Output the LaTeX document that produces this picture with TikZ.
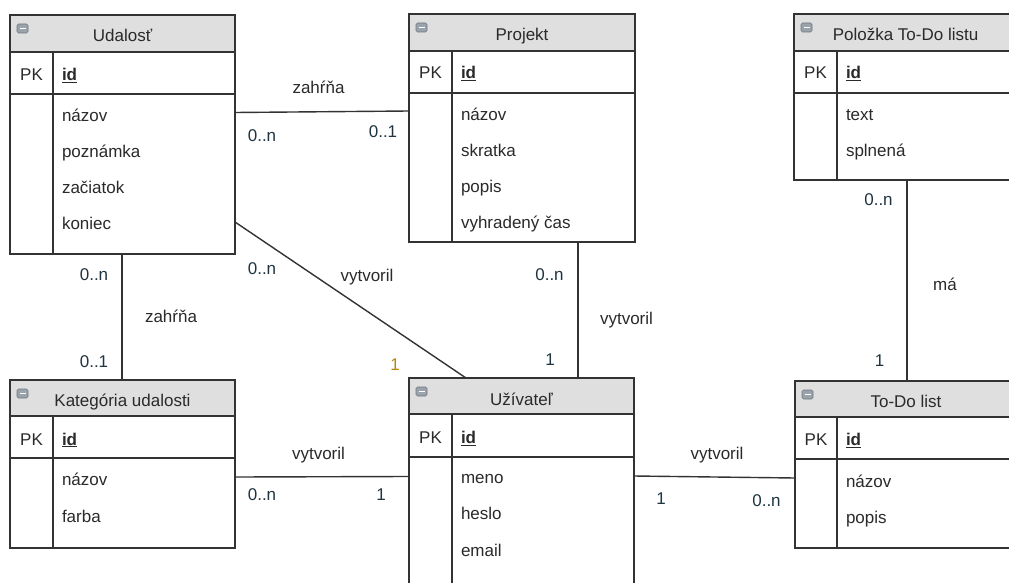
\documentclass[tikz,border=0pt]{standalone}
\usepackage{fontspec}
\setmainfont{Liberation Sans}
\usetikzlibrary{calc}
\definecolor{txtc}{HTML}{2A2A2A}
\definecolor{lblc}{HTML}{1F3440}
\definecolor{orng}{HTML}{B8860B}
\definecolor{hdrc}{HTML}{DFDFDF}
\definecolor{linec}{HTML}{333333}
\definecolor{iconc}{HTML}{9AA3AC}
\definecolor{iconb}{HTML}{6E7780}
\newcommand\fs{\fontsize{17}{20}\selectfont}
\tikzset{
  txt/.style={inner sep=0pt, outer sep=0pt, text height=12pt, text depth=0pt, font=\fs, text=txtc},
  attr/.style={txt, anchor=west},
  ttl/.style={txt, anchor=center},
  lbl/.style={txt, anchor=center, text=lblc},
  rel/.style={txt, anchor=center},
  entbox/.style={draw=linec, line width=1.5pt, inner sep=0pt, outer sep=0pt, anchor=north west},
  ln/.style={draw=linec, line width=1.5pt},
  conn/.style={draw=linec, line width=1.4pt},
}
% x1,y1,x2,y2,yh,yp,xd
\newcommand{\entinner}[7]{%
  \fill[hdrc] (#1,#2) rectangle (#3,#5);
  \draw[ln] (#1,#5) -- (#3,#5);
  \draw[ln] (#1,#6) -- (#3,#6);
  \draw[ln] (#7,#5) -- (#7,#4);
  \draw[draw=iconb, fill=iconc, rounded corners=1.5pt, line width=0.6pt] (#1+7,#2+9) rectangle ++(11,9);
  \draw[white, line width=1.3pt] (#1+9.5,#2+13.5) -- ++(6,0);
}
\begin{document}
\begin{tikzpicture}[x=1pt,y=-1pt]
\useasboundingbox (0,0) rectangle (1009,583);
\clip (0,0) rectangle (1009,583);
\fill[white] (0,0) rectangle (1009,583);

% ---------- Udalost
\entinner{10}{15}{235}{254}{52}{94}{53}
\node[entbox, minimum width=225pt, minimum height=239pt] (udalost) at (10,15) {};
\node[ttl] (udalost-t) at (122.5,36) {Udalosť};
\node[ttl] (udalost-pk) at (31.5,74.5) {PK};
\node[attr] (udalost-id) at (62,74.5) {\underline{\textbf{id}}};
\node[attr] (udalost-a1) at (62,115.5) {názov};
\node[attr] (udalost-a2) at (62,151.5) {poznámka};
\node[attr] (udalost-a3) at (62,187.5) {začiatok};
\node[attr] (udalost-a4) at (62,223.5) {koniec};

% ---------- Projekt
\entinner{409}{14}{635}{242}{51}{93}{452}
\node[entbox, minimum width=226pt, minimum height=228pt] (projekt) at (409,14) {};
\node[ttl] (projekt-t) at (522,35) {Projekt};
\node[ttl] (projekt-pk) at (430.5,73) {PK};
\node[attr] (projekt-id) at (461,73) {\underline{\textbf{id}}};
\node[attr] (projekt-a1) at (461,114.5) {názov};
\node[attr] (projekt-a2) at (461,150.5) {skratka};
\node[attr] (projekt-a3) at (461,186.5) {popis};
\node[attr] (projekt-a4) at (461,222.5) {vyhradený čas};

% ---------- Polozka To-Do listu
\entinner{794}{14}{1017}{180}{51}{93}{837}
\node[entbox, minimum width=223pt, minimum height=166pt] (polozka) at (794,14) {};
\node[ttl] (polozka-t) at (905.5,35) {Položka To-Do listu};
\node[ttl] (polozka-pk) at (815.5,73) {PK};
\node[attr] (polozka-id) at (846,73) {\underline{\textbf{id}}};
\node[attr] (polozka-a1) at (846,114.5) {text};
\node[attr] (polozka-a2) at (846,150.5) {splnená};

% ---------- Kategoria udalosti
\entinner{10}{380}{235}{548}{416}{458}{53}
\node[entbox, minimum width=225pt, minimum height=168pt] (kategoria) at (10,380) {};
\node[ttl] (kategoria-t) at (122.5,400.5) {Kategória udalosti};
\node[ttl] (kategoria-pk) at (31.5,439) {PK};
\node[attr] (kategoria-id) at (62,439) {\underline{\textbf{id}}};
\node[attr] (kategoria-a1) at (62,479) {názov};
\node[attr] (kategoria-a2) at (62,516) {farba};

% ---------- Uzivatel
\entinner{409}{378}{634}{600}{414}{457}{452}
\node[entbox, minimum width=225pt, minimum height=222pt] (uzivatel) at (409,378) {};
\node[ttl] (uzivatel-t) at (521.5,399) {Užívateľ};
\node[ttl] (uzivatel-pk) at (430.5,437.5) {PK};
\node[attr] (uzivatel-id) at (461,437.5) {\underline{\textbf{id}}};
\node[attr] (uzivatel-a1) at (461,477.5) {meno};
\node[attr] (uzivatel-a2) at (461,513.5) {heslo};
\node[attr] (uzivatel-a3) at (461,550) {email};

% ---------- To-Do list
\entinner{795}{381}{1018}{548}{417}{459}{837}
\node[entbox, minimum width=223pt, minimum height=167pt] (todo) at (795,381) {};
\node[ttl] (todo-t) at (906,401) {To-Do list};
\node[ttl] (todo-pk) at (816,439.5) {PK};
\node[attr] (todo-id) at (846,439.5) {\underline{\textbf{id}}};
\node[attr] (todo-a1) at (846,481) {názov};
\node[attr] (todo-a2) at (846,517) {popis};

% ---------- connectors
\draw[conn] ($(udalost.north east)+(0,97.5)$) -- ($(projekt.north west)+(0,97)$);
\draw[conn] ($(udalost.north east)+(0,207)$) -- ($(uzivatel.north west)+(57,0)$);
\draw[conn] ($(projekt.south west)+(169,0)$) -- ($(uzivatel.north west)+(169,0)$);
\draw[conn] ($(udalost.south west)+(112,0)$) -- ($(kategoria.north west)+(112,0)$);
\draw[conn] ($(kategoria.north east)+(0,97)$) -- ($(uzivatel.north west)+(0,98.5)$);
\draw[conn] ($(uzivatel.north east)+(0,98)$) -- ($(todo.north west)+(0,97)$);
\draw[conn] ($(polozka.south west)+(113,0)$) -- ($(todo.north west)+(112,0)$);

% ---------- labels
\node[rel] (r1) at (318.5,87.5) {zahŕňa};
\node[lbl] (c1a) at (262,136) {0..n};
\node[lbl] (c1b) at (383,132) {0..1};

\node[lbl] (c2a) at (262,268.5) {0..n};
\node[rel] (r2) at (367,275) {vytvoril};
\node[lbl, text=orng] (c2b) at (395,364.5) {1};

\node[lbl] (c3a) at (549.5,274) {0..n};
\node[rel] (r3) at (626.5,318) {vytvoril};
\node[lbl] (c3b) at (550,359) {1};

\node[lbl] (c4a) at (94,274) {0..n};
\node[rel] (r4) at (171,316.5) {zahŕňa};
\node[lbl] (c4b) at (94,361) {0..1};

\node[rel] (r5) at (318.5,453.5) {vytvoril};
\node[lbl] (c5a) at (262,494.5) {0..n};
\node[lbl] (c5b) at (381,494.5) {1};

\node[rel] (r6) at (717,453.5) {vytvoril};
\node[lbl] (c6a) at (661,498) {1};
\node[lbl] (c6b) at (766.5,500.5) {0..n};

\node[lbl] (c7a) at (878.5,199) {0..n};
\node[rel] (r7) at (945,284) {má};
\node[lbl] (c7b) at (879.5,360) {1};
\end{tikzpicture}
\end{document}
